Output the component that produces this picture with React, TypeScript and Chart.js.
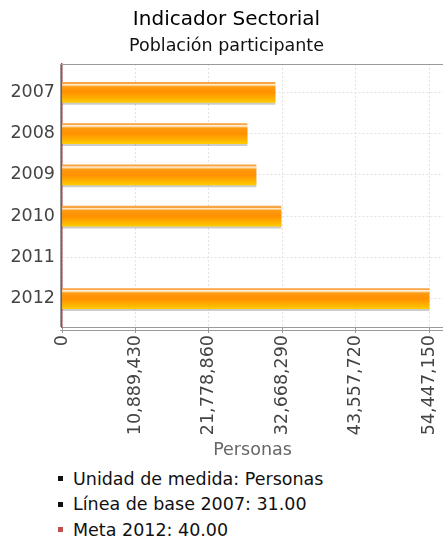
import React, { useEffect, useRef } from "react";
import { Chart, registerables } from "chart.js";

Chart.register(...registerables);

const TITLE = "Indicador Sectorial";
const SUBTITLE = "Población participante";
const X_TITLE = "Personas";
const YEARS = ["2007", "2008", "2009", "2010", "2011", "2012"];
const VALUES: (number | null)[] = [31600000, 27450000, 28780000, 32490000, null, 54447150];
const X_TICKS = [0, 10889430, 21778860, 32668290, 43557720, 54447150];
const X_MAX = 56520000;
const NOTES = [
  { text: "Unidad de medida: Personas", color: "#111111" },
  { text: "Línea de base 2007: 31.00", color: "#111111" },
  { text: "Meta 2012: 40.00", color: "#c0504d" },
];

const FONT = "'DejaVu Sans', sans-serif";
const BAR_H = 20;

export default function App() {
  const ref = useRef<HTMLCanvasElement | null>(null);

  useEffect(() => {
    document.body.style.margin = "0";
    const canvas = ref.current;
    if (!canvas) return;

    const shadowPlugin = {
      id: "barShadow",
      beforeDatasetsDraw(chart: any) {
        const ctx = chart.ctx;
        ctx.save();
        ctx.shadowColor = "rgba(0,0,0,0.2)";
        ctx.shadowOffsetY = 2;
        ctx.shadowOffsetX = 0;
        ctx.shadowBlur = 0;
      },
      afterDatasetsDraw(chart: any) {
        chart.ctx.restore();
      },
    };

    const framePlugin = {
      id: "frame",
      afterDraw(chart: any) {
        const { ctx, chartArea } = chart;
        const { left, right, top, bottom } = chartArea;
        ctx.save();
        ctx.strokeStyle = "#9a9a9a";
        ctx.lineWidth = 1;
        ctx.beginPath();
        ctx.moveTo(left - 2, top + 0.5);
        ctx.lineTo(right, top + 0.5);
        ctx.moveTo(left - 1.5, top);
        ctx.lineTo(left - 1.5, bottom);
        ctx.moveTo(left - 2, bottom + 3.5);
        ctx.lineTo(right, bottom + 3.5);
        ctx.stroke();
        ctx.restore();
      },
    };

    const data = YEARS.map((y, i) => ({ x: VALUES[i], y: i }));

    const chart = new Chart(canvas, {
      type: "bar",
      data: {
        datasets: [
          {
            data: data as any,
            barThickness: BAR_H,
            borderWidth: 0,
            backgroundColor: (c: any) => {
              const ch = c.chart;
              const ys = ch.scales && ch.scales.y;
              if (!ys || c.type !== "data" || !c.raw) return "#ff9000";
              const cy = ys.getPixelForValue(c.raw.y);
              if (!isFinite(cy)) return "#ff9000";
              const t = cy - BAR_H / 2;
              const g = ch.ctx.createLinearGradient(0, t, 0, t + BAR_H);
              g.addColorStop(0, "#f7a445");
              g.addColorStop(0.07, "#f7a445");
              g.addColorStop(0.09, "#fff2de");
              g.addColorStop(0.15, "#ffd9a0");
              g.addColorStop(0.22, "#ff9a10");
              g.addColorStop(0.5, "#ff9100");
              g.addColorStop(0.85, "#ffb600");
              g.addColorStop(1, "#ffcc00");
              return g;
            },
          },
        ],
      },
      options: {
        indexAxis: "y",
        responsive: false,
        animation: false,
        events: [],
        layout: { padding: { left: 10, right: 0, top: 0, bottom: 0 } },
        plugins: {
          legend: { display: false },
          tooltip: { enabled: false },
          title: {
            display: true,
            text: TITLE,
            color: "#000",
            font: { family: FONT, size: 20, weight: "normal" },
            padding: { top: 8, bottom: 0 },
          },
          subtitle: {
            display: true,
            text: SUBTITLE,
            color: "#111",
            font: { family: FONT, size: 17.5, weight: "normal" },
            padding: { top: 4, bottom: 7 },
          },
        },
        scales: {
          x: {
            type: "linear",
            position: "bottom",
            min: 0,
            max: X_MAX,
            offset: false,
            afterBuildTicks: (s: any) => {
              s.ticks = X_TICKS.map((v) => ({ value: v }));
            },
            afterFit: (s: any) => {
              s.height = 138;
              s.paddingLeft = 0;
              s.paddingRight = 0;
            },
            ticks: {
              autoSkip: false,
              minRotation: 90,
              maxRotation: 90,
              padding: 2,
              color: "#444",
              font: { family: FONT, size: 17.5 },
              callback: (v: any) => Number(v).toLocaleString("en-US"),
            },
            grid: {
              color: "#e3e3e3",
              lineWidth: 1,
              offset: false,
              drawTicks: true,
              tickLength: 6,
              tickColor: "#9a9a9a",
              tickBorderDash: [],
            },
            border: { display: true, color: "#9a9a9a", width: 1, dash: [2, 2] },
            title: {
              display: true,
              text: X_TITLE,
              color: "#666",
              font: { family: FONT, size: 17.5 },
              padding: { top: 0, bottom: 4 },
            },
          },
          y: {
            type: "linear",
            position: "left",
            reverse: true,
            min: -0.686,
            max: 5.686,
            offset: false,
            afterBuildTicks: (s: any) => {
              s.ticks = YEARS.map((_, i) => ({ value: i }));
            },
            afterFit: (s: any) => {
              s.width = 52;
              s.paddingTop = 0;
              s.paddingBottom = 0;
            },
            ticks: {
              autoSkip: false,
              padding: 7,
              color: "#444",
              font: { family: FONT, size: 17.5 },
              callback: (v: any) => YEARS[Number(v)] ?? "",
            },
            grid: { color: "#e3e3e3", lineWidth: 1, offset: false, drawTicks: false },
            border: { display: true, color: "#b04848", width: 1.5, dash: [2, 2] },
          },
        },
      },
      plugins: [shadowPlugin, framePlugin],
    } as any);

    return () => chart.destroy();
  }, []);

  return (
    <div style={{ width: 443, fontFamily: FONT }}>
      <canvas ref={ref} width={443} height={465} style={{ display: "block", width: 443, height: 465 }} />
      <div style={{ marginTop: 1 }}>
        {NOTES.map((n) => (
          <div key={n.text} style={{ display: "flex", alignItems: "center", height: 25.5, fontSize: 17.5, color: "#111" }}>
            <span style={{ display: "inline-block", width: 5, height: 5, background: n.color, marginLeft: 58, marginRight: 10 }} />
            <span>{n.text}</span>
          </div>
        ))}
      </div>
    </div>
  );
}
